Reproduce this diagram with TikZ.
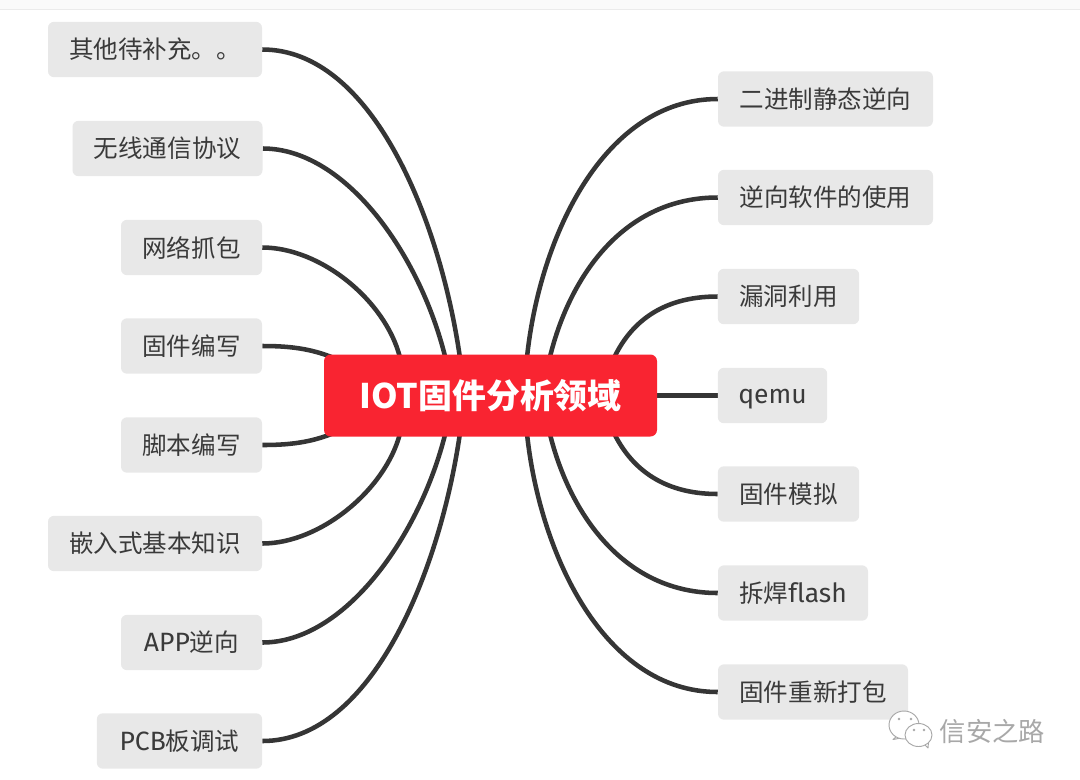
\documentclass[tikz,border=0pt]{standalone}
\usepackage{fontspec}
\setmainfont{Noto Sans CJK SC}
\newfontfamily\latinfont[Scale=1.08,Ligatures=NoCommon]{Fira Sans}
\usetikzlibrary{backgrounds}
\definecolor{boxgray}{HTML}{E8E8E8}
\definecolor{linkgray}{HTML}{353535}
\definecolor{txt}{HTML}{3A3A3A}
\definecolor{rootred}{HTML}{F92431}
\definecolor{markgray}{HTML}{A8A8A8}
\tikzset{
  topic/.style={fill=boxgray,rounded corners=4.5pt,inner sep=0pt,text=txt,font=\fontsize{18.4pt}{22pt}\selectfont,minimum height=41.5pt,anchor=center},
  rootbox/.style={fill=rootred,rounded corners=5pt,inner sep=0pt,text=white,font=\fontsize{25.4pt}{30pt}\selectfont\bfseries,minimum width=249.75pt,minimum height=61.5pt},
  link/.style={draw=linkgray,line width=3.4pt},
  bubble/.style={draw=markgray,fill=white,line width=0.7pt,line join=round}
}
\begin{document}
\begin{tikzpicture}[x=0.75pt,y=-0.75pt]
\useasboundingbox (0,0) rectangle (1080,779);

\node[rootbox] (root) at (490.5,395.5) {IOT固件分析领域};

\node[topic,minimum width=160.5pt] (l1) at (155,49.5) {其他待补充。。};
\node[topic,minimum width=142.5pt] (l2) at (167.5,148.5) {无线通信协议};
\node[topic,minimum width=105.75pt] (l3) at (191.5,247.5) {网络抓包};
\node[topic,minimum width=105.75pt] (l4) at (191.5,346) {固件编写};
\node[topic,minimum width=105.75pt] (l5) at (191.5,445) {脚本编写};
\node[topic,minimum width=160.5pt] (l6) at (155,543.5) {嵌入式基本知识};
\node[topic,minimum width=105.75pt] (l7) at (191.5,642.5) {{\latinfont APP}逆向};
\node[topic,minimum width=124pt] (l8) at (179.5,741) {{\latinfont PCB}板调试};

\node[topic,minimum width=161.25pt] (r1) at (825.5,99) {二进制静态逆向};
\node[topic,minimum width=161.25pt] (r2) at (825.5,197.5) {逆向软件的使用};
\node[topic,minimum width=106pt] (r3) at (788.5,296.5) {漏洞利用};
\node[topic,minimum width=82pt] (r4) at (772.5,395.5) {\vphantom{固}\latinfont\raisebox{-1.5pt}{qemu}};
\node[topic,minimum width=106pt] (r5) at (788.5,494) {固件模拟};
\node[topic,minimum width=112.5pt] (r6) at (793,593) {拆焊{\latinfont flash}};
\node[topic,minimum width=142.5pt] (r7) at (813,692) {固件重新打包};

\begin{scope}[on background layer]
\fill[white] (0,0) rectangle (1080,779);
\fill[black!2] (0,0) rectangle (1080,9);
\draw[black!8,line width=0.75pt] (0,9) -- (1080,9);
\draw[link] (l1.east) .. controls +(110,0) and (440,220) .. ([xshift=-23pt,yshift=-2pt]root.north);
\draw[link] (l2.east) .. controls +(83,0) and (420,255) .. ([xshift=-34pt,yshift=-2pt]root.north);
\draw[link] (l3.east) .. controls +(58,0) and (385,300) .. ([xshift=-68pt,yshift=-2pt]root.north);
\draw[link] (l4.east) .. controls +(25,0) and (310,348) .. ([xshift=8pt,yshift=-3pt]root.north west);
\draw[link] (l5.east) .. controls +(25,0) and (310,443) .. ([xshift=8pt,yshift=3pt]root.south west);
\draw[link] (l6.east) .. controls +(58,0) and (385,490) .. ([xshift=-68pt,yshift=2pt]root.south);
\draw[link] (l7.east) .. controls +(83,0) and (420,535) .. ([xshift=-34pt,yshift=2pt]root.south);
\draw[link] (l8.east) .. controls +(110,0) and (440,570) .. ([xshift=-23pt,yshift=2pt]root.south);

\draw[link] (r1.west) .. controls +(-113,0) and (540,235) .. ([xshift=27.4pt,yshift=-2pt]root.north);
\draw[link] (r2.west) .. controls +(-93,0) and (570,275) .. ([xshift=44.6pt,yshift=-2pt]root.north);
\draw[link] (r3.west) .. controls +(-58,0) and (630,325) .. ([xshift=93pt,yshift=-2pt]root.north);
\draw[link] (root.east) -- (r4.west);
\draw[link] (r5.west) .. controls +(-58,0) and (630,465) .. ([xshift=93pt,yshift=2pt]root.south);
\draw[link] (r6.west) .. controls +(-93,0) and (570,515) .. ([xshift=44.6pt,yshift=2pt]root.south);
\draw[link] (r7.west) .. controls +(-113,0) and (540,555) .. ([xshift=27.4pt,yshift=2pt]root.south);
\end{scope}

% watermark
\draw[bubble] (897,736) -- (893,739.5) -- (901,738);
\draw[bubble] (904,725) ellipse (15 and 14);
\fill[markgray] (899,719) circle (1.4) (911,719) circle (1.4);
\draw[bubble] (925,745) -- (928,748) -- (928.5,742);
\draw[bubble] (918.5,735) ellipse (13.5 and 11.5);
\fill[markgray] (914,730) circle (1.4) (924,730) circle (1.4);
\node[inner sep=0pt,text=markgray,font=\fontsize{19.7pt}{22pt}\selectfont] (mark) at (992.5,731) {信安之路};
\end{tikzpicture}
\end{document}
